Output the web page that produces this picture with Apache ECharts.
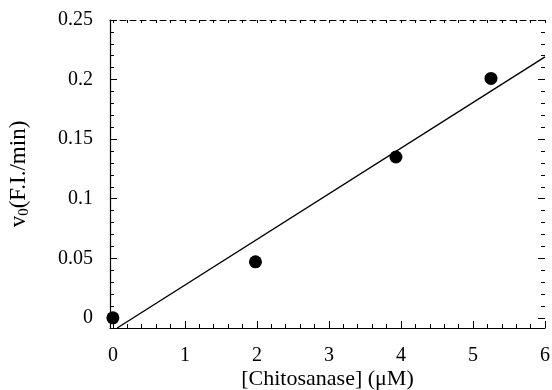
<!DOCTYPE html>
<html><head><meta charset="utf-8">
<script src="https://cdn.jsdelivr.net/npm/echarts@6/dist/echarts.min.js"></script>
<style>html,body{margin:0;padding:0;background:#fff}#c{width:552px;height:390px}</style>
</head><body><div id="c"></div>
<script>
// Data
const concentration = [0, 1.98, 3.93, 5.25];      // [Chitosanase] (µM)
const velocity      = [0.0, 0.047, 0.135, 0.201]; // v0 (F.I./min)
const fitLine       = [[0.06, -0.0085], [6, 0.219]];
const xTickLabels   = [0, 1, 2, 3, 4, 5, 6];
const yTickLabels   = [0, 0.05, 0.1, 0.15, 0.2, 0.25];
const xRange = [-0.04, 6];
const yRange = [-0.0085, 0.25];

function steps(a, b, s) { const r = []; for (let v = a; v <= b + 1e-9; v += s) r.push(Math.round(v * 1000) / 1000); return r; }
const xMinor = steps(0, 6, 0.2);
const yMinor = steps(0, 0.25, 0.01);

const font = 'Liberation Serif';
const black = '#000';
const chart = echarts.init(document.getElementById('c'));
const hidden = { show: false };
const noLine = { show: false, onZero: false };
chart.setOption({
  animation: false,
  grid: { left: 110, right: 7, top: 20, bottom: 62, containLabel: false, outerBoundsMode: 'none' },
  xAxis: [
    { type: 'value', position: 'bottom', min: xRange[0], max: xRange[1],
      axisLine: { show: true, onZero: false, lineStyle: { color: black, width: 1.2 } },
      axisTick: { show: true, inside: true, length: 7, customValues: xTickLabels, lineStyle: { color: black } },
      axisLabel: { customValues: xTickLabels, fontFamily: font, fontSize: 20, color: black, margin: 18 },
      splitLine: hidden,
      name: '[Chitosanase] (\u03bcM)', nameLocation: 'middle', nameGap: 40, nameMoveOverlap: false,
      nameTextStyle: { fontFamily: font, fontSize: 22, color: black } },
    { type: 'value', position: 'bottom', min: xRange[0], max: xRange[1],
      axisLine: noLine, axisLabel: hidden, splitLine: hidden,
      axisTick: { show: true, inside: true, length: 4, customValues: xMinor, lineStyle: { color: black } } },
    { type: 'value', position: 'top', min: xRange[0], max: xRange[1],
      axisLine: { show: true, onZero: false, lineStyle: { color: black, width: 1, type: [6, 4] } },
      axisLabel: hidden, splitLine: hidden,
      axisTick: { show: true, inside: true, length: 3, customValues: xMinor, lineStyle: { color: black } } }
  ],
  yAxis: [
    { type: 'value', position: 'left', min: yRange[0], max: yRange[1],
      axisLine: { show: true, onZero: false, lineStyle: { color: black, width: 1.2 } },
      axisTick: { show: true, inside: true, length: 7, customValues: yTickLabels, lineStyle: { color: black } },
      axisLabel: { customValues: yTickLabels, fontFamily: font, fontSize: 20, color: black, margin: 17 },
      splitLine: hidden,
      name: '{a|v}{b|0}{a|(F.I./min)}', nameLocation: 'middle', nameRotate: 90, nameGap: 78, nameMoveOverlap: false,
      nameTextStyle: { rich: {
        a: { fontFamily: font, fontSize: 23, color: black },
        b: { fontFamily: font, fontSize: 15, color: black, padding: [12, 0, 0, 0] } } } },
    { type: 'value', position: 'left', min: yRange[0], max: yRange[1],
      axisLine: noLine, axisLabel: hidden, splitLine: hidden,
      axisTick: { show: true, inside: true, length: 4, customValues: yMinor, lineStyle: { color: black } } },
    { type: 'value', position: 'right', min: yRange[0], max: yRange[1],
      axisLine: noLine, axisLabel: hidden, splitLine: hidden,
      axisTick: { show: true, inside: true, length: 4, customValues: yMinor, lineStyle: { color: black } } },
    { type: 'value', position: 'right', min: yRange[0], max: yRange[1],
      axisLine: noLine, axisLabel: hidden, splitLine: hidden,
      axisTick: { show: true, inside: true, length: 7, customValues: yTickLabels, lineStyle: { color: black } } }
  ],
  series: [
    { type: 'line', data: fitLine, showSymbol: false, symbol: 'none',
      lineStyle: { color: black, width: 1.4 }, xAxisIndex: 0, yAxisIndex: 0, silent: true },
    { type: 'scatter', data: concentration.map((x, i) => [x, velocity[i]]),
      symbol: 'circle', symbolSize: 13, itemStyle: { color: '#000', opacity: 1 }, xAxisIndex: 0, yAxisIndex: 0 }
  ]
});
</script></body></html>
